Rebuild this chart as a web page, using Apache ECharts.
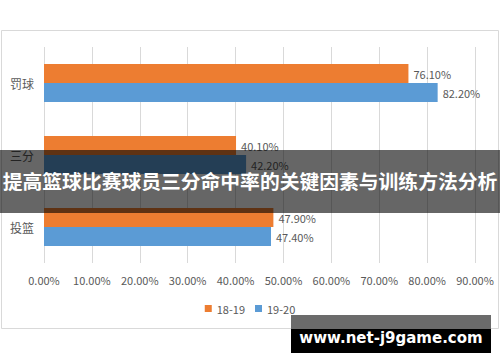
<!DOCTYPE html>
<html>
<head>
<meta charset="utf-8">
<script src="https://cdn.jsdelivr.net/npm/echarts@6/dist/echarts.min.js"></script>
<style>
html,body{margin:0;padding:0;background:#fff;}
#c{width:500px;height:362px;}
</style>
</head>
<body>
<div id="c"></div>
<script>
var categories = ['罚球', '三分', '投篮'];
var series1819 = [76.1, 40.1, 47.9];
var series1920 = [82.2, 42.2, 47.4];
var seriesNames = ['18-19', '19-20'];
var titleText = '提高篮球比赛球员三分命中率的关键因素与训练方法分析';
var watermarkText = 'www.net-j9game.com';

var chart = echarts.init(document.getElementById('c'), null, {renderer: 'svg'});
var font = '"Noto Sans CJK SC", "Noto Sans", sans-serif';
var pct = function (v) { return Number(v).toFixed(2) + '%'; };
chart.setOption({
  animation: false,
  textStyle: {fontFamily: font},
  grid: {left: 44, right: 25, top: 47, bottom: 99, containLabel: false},
  legend: {
    data: seriesNames,
    top: 298,
    left: 'center',
    itemWidth: 7, itemHeight: 7, itemGap: 10,
    icon: 'rect',
    textStyle: {fontSize: 11, color: '#595959', fontFamily: font}
  },
  xAxis: {
    type: 'value', min: 0, max: 90, interval: 10,
    axisLine: {show: false}, axisTick: {show: false},
    splitLine: {show: true, lineStyle: {color: '#d9d9d9', width: 1}},
    axisLabel: {formatter: pct, color: '#595959', fontSize: 11, margin: 11, fontFamily: font}
  },
  yAxis: {
    type: 'category', data: categories, inverse: true,
    axisLine: {show: false}, axisTick: {show: false},
    axisLabel: {color: '#595959', fontSize: 12, margin: 10, fontFamily: font}
  },
  series: [
    {name: seriesNames[0], type: 'bar', data: series1819, barWidth: 19, barGap: '0%',
     itemStyle: {color: '#ED7D31'},
     label: {show: true, position: 'right', distance: 5, formatter: function(p){return pct(p.value);}, color: '#595959', fontSize: 11, fontFamily: font}},
    {name: seriesNames[1], type: 'bar', data: series1920, barWidth: 19, barGap: '0%',
     itemStyle: {color: '#5B9BD5'},
     label: {show: true, position: 'right', distance: 5, formatter: function(p){return pct(p.value);}, color: '#595959', fontSize: 11, fontFamily: font}}
  ],
  graphic: [
    {type: 'rect', z: -1, shape: {x: 1.5, y: 30.5, width: 497, height: 298}, style: {fill: 'none', stroke: '#d9d9d9', lineWidth: 1}},
    {type: 'rect', z: 100, shape: {x: 0, y: 150, width: 500, height: 63}, style: {fill: 'rgba(0,0,0,0.6)'}},
    {type: 'text', z: 101, x: 250, y: 180, style: {text: titleText, fill: '#fff', font: 'bold 19.8px "Noto Sans CJK SC", sans-serif', textAlign: 'center', textVerticalAlign: 'middle'}},
    {type: 'rect', z: 100, shape: {x: 291, y: 315, width: 200, height: 14}, style: {fill: '#6b6b6b'}},
    {type: 'rect', z: 100, shape: {x: 291, y: 329, width: 200, height: 24}, style: {fill: '#000'}},
    {type: 'text', z: 101, x: 391, y: 338, style: {text: watermarkText, fill: '#fff', font: 'bold 15px "DejaVu Sans", sans-serif', textAlign: 'center', textVerticalAlign: 'middle'}}
  ]
});
</script>
</body>
</html>
